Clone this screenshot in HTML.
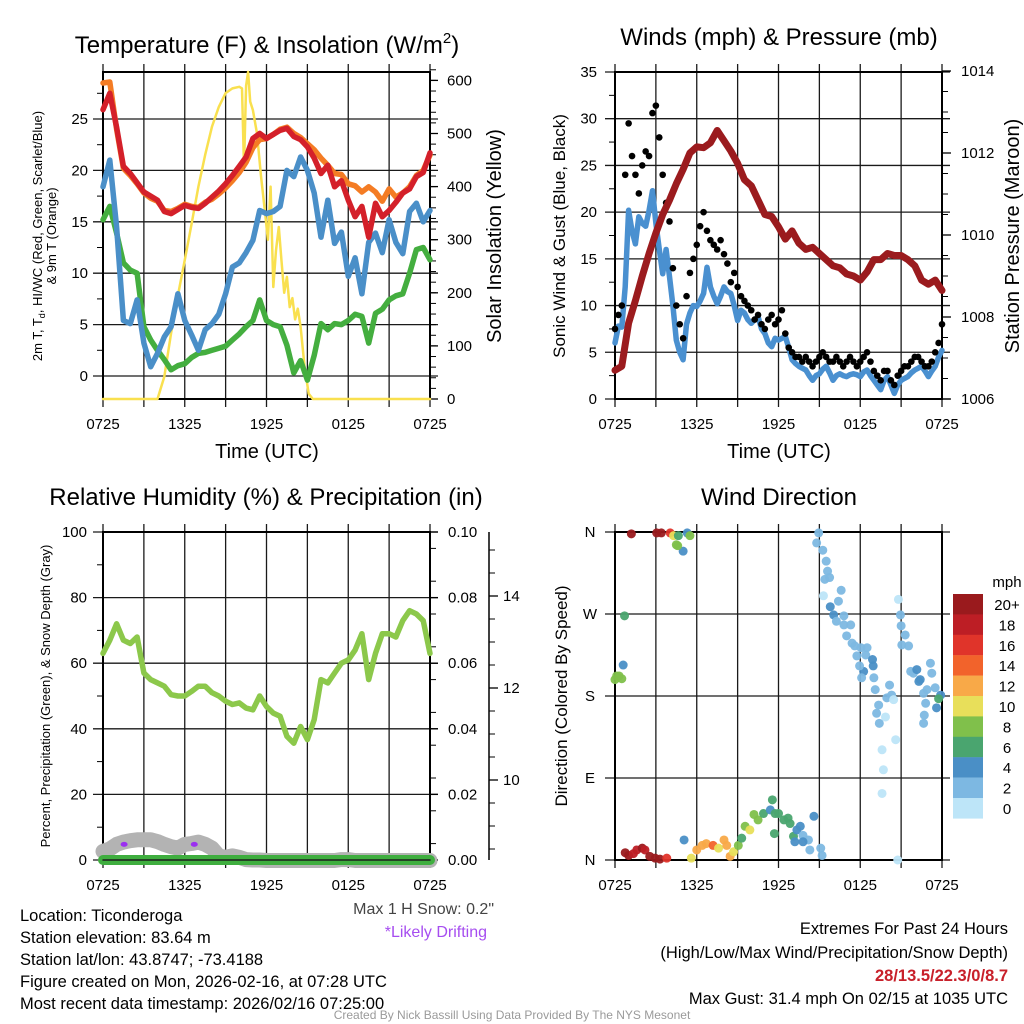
<!DOCTYPE html>
<html><head><meta charset="utf-8"><style>
html,body{margin:0;padding:0;background:#fff}
svg{display:block;font-family:"Liberation Sans",sans-serif}
</style></head><body>
<svg id="fig" width="1024" height="1024" viewBox="0 0 1024 1024" xmlns="http://www.w3.org/2000/svg">
<rect width="1024" height="1024" fill="#fff"/>
<text x="267" y="53" font-size="24" text-anchor="middle">Temperature (F) &amp; Insolation (W/m<tspan font-size="15" dy="-10">2</tspan><tspan dy="10">)</tspan></text>
<text x="779" y="45" font-size="24" text-anchor="middle">Winds (mph) &amp; Pressure (mb)</text>
<text x="266" y="505" font-size="24" text-anchor="middle">Relative Humidity (%) &amp; Precipitation (in)</text>
<text x="779" y="505" font-size="24" text-anchor="middle">Wind Direction</text>

<text font-size="13" text-anchor="middle" transform="translate(42,236) rotate(-90)">2m T, T<tspan font-size="9" dy="3">d</tspan><tspan dy="-3">, HI/WC (Red, Green, Scarlet/Blue)</tspan></text>
<text font-size="13" text-anchor="middle" transform="translate(56,236) rotate(-90)">&amp; 9m T (Orange)</text>
<text font-size="20" text-anchor="middle" transform="translate(501,236) rotate(-90)">Solar Insolation (Yellow)</text>
<text x="267" y="458" font-size="20" text-anchor="middle">Time (UTC)</text>
<text font-size="17" text-anchor="middle" transform="translate(565,236) rotate(-90)">Sonic Wind &amp; Gust (Blue, Black)</text>
<text font-size="20" text-anchor="middle" transform="translate(1019,236) rotate(-90)">Station Pressure (Maroon)</text>
<text x="779" y="458" font-size="20" text-anchor="middle">Time (UTC)</text>
<text font-size="13" text-anchor="middle" transform="translate(50,696) rotate(-90)">Percent, Precipitation (Green), &amp; Snow Depth (Gray)</text>
<text font-size="17" text-anchor="middle" transform="translate(567,696) rotate(-90)">Direction (Colored By Speed)</text>

<g font-size="16.5">
<text x="20" y="921">Location: Ticonderoga</text>
<text x="20" y="943">Station elevation: 83.64 m</text>
<text x="20" y="965">Station lat/lon: 43.8747; -73.4188</text>
<text x="20" y="987">Figure created on Mon, 2026-02-16, at 07:28 UTC</text>
<text x="20" y="1009">Most recent data timestamp: 2026/02/16 07:25:00</text>
</g>
<text x="494" y="914" font-size="16" text-anchor="end" fill="#444">Max 1 H Snow: 0.2"</text>
<text x="487" y="937" font-size="16" text-anchor="end" fill="#a64df0">*Likely Drifting</text>
<g font-size="16.5" text-anchor="end">
<text x="1008" y="934">Extremes For Past 24 Hours</text>
<text x="1008" y="958">(High/Low/Max Wind/Precipitation/Snow Depth)</text>
<text x="1008" y="981" fill="#c8202a" font-weight="bold">28/13.5/22.3/0/8.7</text>
<text x="1008" y="1004">Max Gust: 31.4 mph On 02/15 at 1035 UTC</text>
</g>
<text x="512" y="1019" font-size="12" text-anchor="middle" fill="#9a9a9a">Created By Nick Bassill Using Data Provided By The NYS Mesonet</text>
</svg>
<script>
// ---------- data ----------
const xTickLabels = ["0725","1325","1925","0125","0725"];
const tempT  = [25.9,27.5,24.2,20.4,19.7,18.8,17.9,17.5,17.1,16.0,15.8,16.2,16.6,16.4,16.3,16.8,17.4,18.0,18.7,19.5,20.4,21.3,23.1,23.6,23.1,23.5,23.9,24.1,23.3,23.0,22.3,21.2,19.7,20.5,18.4,19.0,17.1,15.5,16.5,13.5,16.8,15.5,16.1,16.9,17.8,18.2,19.4,19.8,21.7];
const temp9m = [28.5,28.6,24.0,20.2,19.5,18.7,17.8,17.3,17.0,16.1,16.0,16.3,16.7,16.5,16.4,16.9,17.2,17.7,18.3,19.0,19.8,20.8,22.2,23.0,23.1,23.5,24.0,24.2,23.6,23.2,22.6,22.0,21.2,20.5,19.7,19.6,18.7,18.5,17.9,18.4,17.9,17.0,18.2,17.4,17.8,18.4,19.5,20.0,21.5];
const windChill = [18.4,21.0,14.5,5.4,5.1,7.4,3.2,0.9,2.2,3.8,4.8,8.0,5.4,4.0,2.5,4.5,5.1,6.0,8.0,10.6,11.0,12.0,13.2,16.1,15.8,16.0,16.5,20.0,19.4,21.3,20.0,17.8,13.5,17.1,12.9,14.0,9.7,11.5,8.0,13.0,13.9,12.0,15.2,13.0,11.9,16.0,16.8,15.0,16.1];
const dewPoint = [15.2,16.5,13.9,11.0,10.3,10.0,4.8,3.5,2.5,1.6,0.6,1.0,1.2,1.8,2.2,2.3,2.5,2.7,2.9,3.5,4.1,4.8,5.4,7.4,5.4,5.0,4.8,3.0,0.3,1.5,-0.4,2.0,5.1,4.5,5.1,5.0,5.4,6.0,5.8,3.2,6.1,6.5,7.4,7.8,8.0,10.0,12.3,12.5,11.3];
const solarHours = [0,4,4.5,5,5.5,6,6.5,7,7.5,8,8.5,9,9.5,10,10.2,10.35,10.5,10.65,10.8,11,11.3,11.6,11.9,12.1,12.3,12.5,12.7,12.9,13.1,13.3,13.5,13.7,13.9,14.1,14.3,14.5,14.8,15.1,15.4,24];
const solarVals  = [0,0,42,124,195,262,330,400,460,513,550,576,585,588,585,437,590,616,560,544,500,420,350,300,400,211,280,324,260,200,230,173,190,150,170,136,60,10,0,0];
const pressure = [1006.7,1006.8,1007.85,1008.4,1009.0,1009.55,1010.05,1010.5,1010.85,1011.25,1011.6,1012.0,1012.15,1012.13,1012.25,1012.55,1012.3,1012.05,1011.75,1011.35,1011.2,1010.85,1010.5,1010.45,1010.2,1009.9,1010.1,1009.8,1009.65,1009.7,1009.55,1009.4,1009.25,1009.2,1009.05,1009.0,1008.9,1009.1,1009.4,1009.4,1009.55,1009.5,1009.5,1009.4,1009.25,1008.9,1008.8,1008.9,1008.65];
const windSpeed = [6.0,7.8,7.7,12.0,20.2,18.0,16.6,19.5,18.8,18.5,20.2,22.3,18.8,16.0,13.4,16.0,13.1,10.0,6.3,5.0,4.2,8.0,9.2,10.0,9.9,10.5,11.3,14.1,12.0,11.0,10.2,11.0,12.0,11.5,11.3,10.0,8.4,9.5,9.2,8.5,8.1,8.5,8.8,7.5,7.0,6.0,5.6,6.5,6.3,6.5,6.7,5.5,4.2,3.8,3.5,3.3,3.1,2.5,2.0,2.5,2.7,3.2,3.5,2.8,2.0,2.5,2.7,2.5,2.4,2.6,2.7,2.6,2.4,2.9,3.1,2.5,2.0,1.5,1.0,2.0,2.4,1.5,0.6,1.5,2.0,2.2,2.4,2.8,3.1,3.3,3.5,3.0,2.4,3.0,3.5,4.5,5.2];
const windGust = [7.5,9,10,24,29.5,26,24,22,25,26.5,26,30.6,31.4,28,24,21,19,14,10,8,6.5,11,13.5,15,16.5,18.5,20,18,17,16.5,16,17,15.5,14.5,12.5,13.5,12,11,10.5,10,9.5,8.5,9,8,7.5,8.5,9,8,8.5,9.5,7,5.5,5,4.5,4.5,4,4.5,4,3.5,4,4.5,5,4.5,4,4,4.5,4,3.5,4,4.5,4,3.5,4,4.5,5,4,3,2.5,2,3,3,2,1.5,2.5,3,3.5,3.5,4,4.5,4.5,4,3.5,3.5,4,5,6,8];
const relHum = [63,67,72,67,66,68,57,55,54,53,50.4,50,50,51.4,53,53,51,50,48.4,47.4,47.9,46.3,45.8,50,46.8,44.8,43.8,37.7,35.6,40.7,36.7,42.8,55,54,57,60,61,64,69,55,63,69,69,68,73,76,75,73,63];
const precip = [0,0,0,0,0,0,0,0,0,0,0,0,0,0,0,0,0,0,0,0,0,0,0,0,0,0,0,0,0,0,0,0,0,0,0,0,0,0,0,0,0,0,0,0,0,0,0,0,0];
const snowDepth = [8.45,8.5,8.6,8.65,8.68,8.7,8.7,8.7,8.66,8.6,8.55,8.52,8.6,8.62,8.65,8.6,8.52,8.35,8.32,8.35,8.32,8.27,8.26,8.26,8.25,8.25,8.25,8.25,8.25,8.25,8.25,8.25,8.25,8.25,8.25,8.27,8.27,8.25,8.25,8.25,8.25,8.25,8.25,8.25,8.25,8.25,8.25,8.25,8.25];
const driftHours = [1.55,6.7];
const driftDepth = [8.6,8.6];
const dirHours = [0,0.12,0.3,0.5,0.6,0.7,1.2,0.75,1.0,1.35,1.6,2.0,2.2,2.55,2.95,3.3,3.8,3.06,3.4,4.05,4.3,4.5,4.65,5.0,5.3,5.5,4.6,5.07,5.6,6.0,6.4,6.7,7.2,7.6,8.0,8.2,8.45,8.7,9.05,9.3,9.55,9.9,10.2,10.5,10.9,11.4,11.55,11.75,11.7,12.0,12.4,12.7,12.85,13.1,13.35,13.6,13.8,14.2,14.3,14.6,15.1,15.2,13.2,13.8,14.95,14.8,15.25,15.5,15.6,15.4,15.75,15.3,16.6,15.8,16.4,16.05,16.25,16.8,16.8,17.3,17.0,17.4,17.6,17.75,18.05,18.5,18.4,18.9,18.95,18.25,17.95,18.1,19.0,19.1,19.35,19.2,19.4,19.6,19.7,19.6,19.85,19.95,20.15,20.3,20.45,20.6,20.8,20.95,21.0,21.3,21.05,21.55,20.75,21.7,21.9,22.15,22.4,22.65,22.9,23.15,23.25,22.8,22.7,22.65,23.5,23.6,23.9,23.75,22.3];
const dirDeg = [198,202,202,199,214,268,358,8,5,7,11,13,11,4,2,1,2,359,359,359,356,346,356,339,359,356,345,22,2,11,16,18,16,13,22,16,4,9,16,24,37,33,50,44,51,55,66,51,29,51,44,46,40,26,33,37,27,22,11,48,13,5,20,20,359,348,340,328,317,308,310,290,296,278,284,269,262,268,258,258,246,238,235,224,233,233,225,220,213,207,213,200,200,187,170,161,150,121,99,73,157,178,192,181,176,132,286,269,257,247,236,235,0,207,205,209,198,183,187,216,205,172,159,150,189,167,181,177,196];
const dirSpeed = [8,8,8,8,4,6,20,20,20,18,18,20,18,20,20,20,16,20,20,16,10,8,6,4,4,8,8,4,10,12,12,12,14,10,12,12,12,10,8,6,8,10,8,8,6,4,6,6,6,6,6,6,6,6,4,4,2,2,2,4,2,2,4,4,2,2,2,2,2,2,2,0,2,4,2,4,2,2,2,2,2,2,2,2,2,2,2,4,4,4,2,2,2,2,2,2,2,0,0,0,0,2,2,2,0,0,0,2,2,2,2,2,0,2,2,4,4,2,2,2,2,2,2,2,2,4,4,6,4];
const legendLabels = ["20+","18","16","14","12","10","8","6","4","2","0"];
const legendColors = ["#9a1a1d","#bd1e25","#e0342a","#f2632b","#f8a948","#e8df5a","#80c04b","#4aa56f","#4a8fc6","#7db8e2","#bde5f8"];

// ---------- helpers ----------
const NS = "http://www.w3.org/2000/svg";
const svg = document.getElementById('fig');
function mk(tag, attrs, parent){const e=document.createElementNS(NS,tag);for(const k in attrs)e.setAttribute(k,attrs[k]);(parent||svg).appendChild(e);return e;}
const PW = 327, HOURS = 24;
function xAt(x0){return h => x0 + h*PW/HOURS;}
function pathFrom(xs, ys){let d='';for(let i=0;i<xs.length;i++){d+=(i?'L':'M')+xs[i].toFixed(1)+','+ys[i].toFixed(1);}return d;}
function series(vals, step){return vals.map((v,i)=>i*step);}

function drawFrame(x0,y0,h,hLines,prefix){
  const g = mk('g',{});
  
  
  for(let i=0;i<=8;i++){
    const x = x0 + i*PW/8;
    const l = mk('line',{x1:x,x2:x,y1:y0-8,y2:y0+h+8,stroke:'#1a1a1a','stroke-width':1.3},g);
    
    
  }
  hLines.forEach(y=>{
    const l = mk('line',{x1:x0-10,x2:x0+PW+8,y1:y,y2:y,stroke:'#1a1a1a','stroke-width':1.3},g);
    
    
  });
  const f = mk('rect',{x:x0,y:y0,width:PW,height:h,fill:'none',stroke:'#000','stroke-width':2},g);
  
  
  xTickLabels.forEach((t,i)=>{
    const tx = mk('text',{x:x0+i*PW/4,y:y0+h+30,'font-size':15,'text-anchor':'middle'},g);
    tx.textContent = t;
    
    
  });
}
function tickLabel(x,y,txt,anchor,size,name){
  const t = mk('text',{x:x,y:y+5,'font-size':size||15,'text-anchor':anchor});
  t.textContent = txt;
  
  
}
function minorTicks(x,ys,dir,name){
  ys.forEach(y=>{
    const l = mk('line',{x1:x,x2:x+dir*6,y1:y,y2:y,stroke:'#000','stroke-width':1});
    
    
  });
}
function line(d,color,w,name){
  const p = mk('path',{d:d,fill:'none',stroke:color,'stroke-width':w,'stroke-linejoin':'round','stroke-linecap':'round'});
  
  
  return p;
}

// ---------- panel 1: temperature ----------
(function(){
  const x = xAt(103), yT = t => 376 - t*10.28, yS = w => 399 - w*0.531;
  const hl=[]; for(let t=0;t<=25;t+=5) hl.push(yT(t));
  drawFrame(103,72,327,hl,'temp');
  for(let t=0;t<=25;t+=5) tickLabel(88,yT(t),String(t),'end',15,'temp-y-tick-label');
  const mn=[]; for(let t=-2.5;t<=27.5;t+=2.5) if(t%5!==0 && yT(t)>72 && yT(t)<399) mn.push(yT(t));
  minorTicks(103,mn,-1,'temp-minor-tick');
  const rm=[]; for(let w=0;w<=620;w+=20) rm.push(yS(w));
  minorTicks(430,rm,1,'solar-minor-tick');
  for(let w=0;w<=600;w+=100){
    const l = mk('line',{x1:430,x2:438,y1:yS(w),y2:yS(w),stroke:'#000','stroke-width':1.3});
    
    
    tickLabel(447,yS(w),String(w),'start',15,'solar-y-tick-label');
  }
  const hrs = series(tempT,0.5);
  line(pathFrom(solarHours.map(x), solarVals.map(yS)),'#f9e04f',2.5,'solar-insolation-line');
  line(pathFrom(hrs.map(x), dewPoint.map(yT)),'#44ae3f',5.5,'dewpoint-line');
  line(pathFrom(hrs.map(x), windChill.map(yT)),'#4a8fc8',5.5,'wind-chill-line');
  line(pathFrom(hrs.map(x), temp9m.map(yT)),'#f47c24',5.5,'temp-9m-line');
  line(pathFrom(hrs.map(x), tempT.map(yT)),'#d4202a',5.5,'temp-2m-line');
})();

// ---------- panel 2: winds ----------
(function(){
  const x = xAt(615), yW = v => 399 - v*9.343, yP = p => 399 - (p-1006)*41;
  const hl=[]; for(let v=0;v<=35;v+=5) hl.push(yW(v));
  drawFrame(615,72,327,hl,'wind');
  for(let v=0;v<=35;v+=5) tickLabel(597,yW(v),String(v),'end',15,'wind-y-tick-label');
  const mn=[]; for(let v=2.5;v<35;v+=5) mn.push(yW(v));
  minorTicks(615,mn,-1,'wind-minor-tick');
  const rm=[]; for(let p=1006;p<=1014;p+=0.5) rm.push(yP(p));
  minorTicks(942,rm,1,'pressure-minor-tick');
  for(let p=1006;p<=1014;p+=2){
    const l = mk('line',{x1:942,x2:951,y1:yP(p),y2:yP(p),stroke:'#000','stroke-width':1.3});
    
    
    tickLabel(961,yP(p),String(p),'start',15,'pressure-y-tick-label');
  }
  const ph = series(pressure,0.5), wh = series(windSpeed,0.25), gh = series(windGust,0.25);
  line(pathFrom(wh.map(x), windSpeed.map(yW)),'#4a90d0',5.5,'sonic-wind-line');
  windGust.forEach((g,i)=>{
    const c = mk('circle',{cx:x(gh[i]),cy:yW(g),r:3.3,fill:'#000'});
    
    
  });
  line(pathFrom(ph.map(x), pressure.map(yP)),'#9b1b1e',7,'station-pressure-line');
})();

// ---------- panel 3: humidity ----------
(function(){
  const x = xAt(103), yR = r => 860 - r*3.28, yPr = v => 860 - v*3280, ySn = s => 780 - (s-10)*46;
  const hl=[]; for(let r=0;r<=100;r+=20) hl.push(yR(r));
  drawFrame(103,532,328,hl,'rh');
  for(let r=0;r<=100;r+=20) tickLabel(87,yR(r),String(r),'end',15,'rh-y-tick-label');
  const mn=[]; for(let r=10;r<100;r+=20) mn.push(yR(r));
  minorTicks(103,mn,-1,'rh-minor-tick');
  const pm=[]; for(let v=0.005;v<0.1;v+=0.01) pm.push(yPr(v));
  minorTicks(430,pm,1,'precip-minor-tick');
  for(let k=0;k<=5;k++){
    const v=k*0.02;
    const l = mk('line',{x1:430,x2:438,y1:yPr(v),y2:yPr(v),stroke:'#000','stroke-width':1.3});
    
    
    tickLabel(448,yPr(v),v.toFixed(2),'start',15,'precip-y-tick-label');
  }
  const ax = mk('line',{x1:489,x2:489,y1:532,y2:860,stroke:'#000','stroke-width':1.5});
  
  
  const sm=[]; for(let s=7.5;s<=15.5;s+=0.5) if(ySn(s)>=532&&ySn(s)<=860) sm.push(ySn(s));
  minorTicks(489,sm,1,'snow-minor-tick');
  [10,12,14].forEach(s=>{
    const l = mk('line',{x1:489,x2:498,y1:ySn(s),y2:ySn(s),stroke:'#000','stroke-width':1.3});
    
    
    tickLabel(503,ySn(s),String(s),'start',15,'snow-y-tick-label');
  });
  const hrs = series(relHum,0.5);
  line(pathFrom(hrs.map(x), snowDepth.map(v=>Math.min(ySn(v),861))),'#b3b3b3',15,'snow-depth-line');
  line(pathFrom(hrs.map(x), precip.map(yPr)),'#3fae3f',10,'precip-line');
  line(pathFrom([103,430],[860,860]),'#1d1d1d',1.5,'precip-baseline');
  driftHours.forEach((h,i)=>{
    const c = mk('ellipse',{cx:x(h),cy:ySn(driftDepth[i]),rx:3.5,ry:2.5,fill:'#9b30f0'});
    
    
  });
  line(pathFrom(hrs.map(x), relHum.map(yR)),'#8cc84b',5.5,'relative-humidity-line');
})();

// ---------- panel 4: wind direction ----------
(function(){
  const x = xAt(615), yD = d => 860 - d*328/360;
  const hl=[]; for(let d=0;d<=360;d+=90) hl.push(yD(d));
  drawFrame(615,532,328,hl,'direction');
  ["N","E","S","W","N"].forEach((t,i)=>tickLabel(590,yD(i*90),t,'middle',15,'direction-y-tick-label'));
  function col(s){const idx = Math.min(10, Math.floor((s+1)/2)); return legendColors[10-idx];}
  dirHours.forEach((h,i)=>{
    const c = mk('circle',{cx:x(h),cy:yD(dirDeg[i]),r:4.5,fill:col(dirSpeed[i]),'fill-opacity':0.95});
    
    
  });
  const lg = mk('g',{});
  
  
  const u = mk('text',{x:1007,y:587,'font-size':15,'text-anchor':'middle'},lg);
  u.textContent='mph';
  
  
  legendLabels.forEach((t,i)=>{
    const y = 594 + i*20.4;
    const r = mk('rect',{x:953,y:y,width:30,height:20.6,fill:legendColors[i]},lg);
    
    
    const tx = mk('text',{x:1007,y:y+16,'font-size':15,'text-anchor':'middle'},lg);
    tx.textContent = t;
    
    
  });
})();
</script>
</body></html>
